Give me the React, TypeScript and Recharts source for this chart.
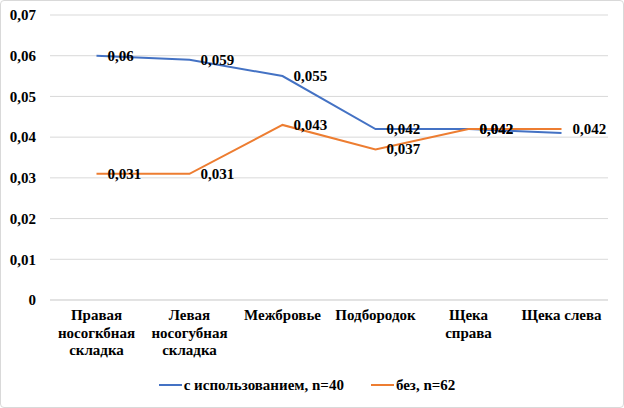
import { CartesianGrid, LabelList, Legend, Line, LineChart, XAxis, YAxis } from 'recharts';

const categories = [
  'Правая носогкбная складка',
  'Левая носогубная складка',
  'Межбровье',
  'Подбородок',
  'Щека справа',
  'Щека слева',
];

// how each category label wraps under the axis
const categoryLines = [
  ['Правая', 'носогкбная', 'складка'],
  ['Левая', 'носогубная', 'складка'],
  ['Межбровье'],
  ['Подбородок'],
  ['Щека', 'справа'],
  ['Щека слева'],
];

const withUse = [0.06, 0.059, 0.055, 0.042, 0.042, 0.041];
const without = [0.031, 0.031, 0.043, 0.037, 0.042, 0.042];
// the last blue label is hidden behind the orange one in the source
const withUseShowLabel = [true, true, true, true, true, false];

const yTicks = [0, 0.01, 0.02, 0.03, 0.04, 0.05, 0.06, 0.07];

const SERIES = [
  { key: 'withUse', name: 'с использованием, n=40', color: '#4472C4' },
  { key: 'without', name: 'без, n=62', color: '#ED7D31' },
];

const FONT = '"Times New Roman", "Liberation Serif", Tinos, serif';

const data = categories.map((c, i) => ({
  name: c,
  withUse: withUse[i],
  without: without[i],
  withUseLabel: withUseShowLabel[i] ? withUse[i] : null,
}));

const fmt = (v: number) => (v === 0 ? '0' : String(v).replace('.', ','));

function CategoryTick(props: any) {
  const { x, y, index } = props;
  const lines = categoryLines[index] || [];
  return (
    <text x={x} y={y + 12} textAnchor="middle" fontFamily={FONT} fontWeight={700} fontSize={15} fill="#000">
      {lines.map((l, i) => (
        <tspan key={i} x={x} dy={i === 0 ? 0 : 17.5}>
          {l}
        </tspan>
      ))}
    </text>
  );
}

function PointLabel(props: any) {
  const { x, y, value } = props;
  if (value === null || value === undefined) return null;
  return (
    <text
      x={x + 11}
      y={y + 5}
      fontFamily={FONT}
      fontWeight={700}
      fontSize={15}
      fill="#000"
    >
      {fmt(value)}
    </text>
  );
}

function LegendContent() {
  return (
    <div
      style={{
        height: 30,
        display: 'flex',
        justifyContent: 'center',
        alignItems: 'center',
        fontFamily: FONT,
        fontWeight: 700,
        fontSize: 15,
        color: '#000',
      }}
    >
      {SERIES.map((s, i) => (
        <div
          key={s.key}
          style={{ display: 'flex', alignItems: 'center', marginLeft: i === 0 ? 0 : 27 }}
        >
          <div style={{ width: 23, height: 2, background: s.color, marginRight: 2 }} />
          <span>{s.name}</span>
        </div>
      ))}
    </div>
  );
}

export default function App() {
  return (
    <div
      style={{ position: 'absolute', left: 0, top: 0, width: 624, height: 408, background: '#fff', fontFamily: FONT }}
    >
      <LineChart
        width={624}
        height={408}
        data={data}
        margin={{ top: 15, right: 16, left: 6, bottom: 8 }}
      >
        <CartesianGrid vertical={false} stroke="#d9d9d9" />
        <XAxis
          dataKey="name"
          scale="band"
          interval={0}
          height={70}
          axisLine={{ stroke: '#d9d9d9' }}
          tickLine={false}
          tick={<CategoryTick />}
        />
        <YAxis
          width={44}
          domain={[0, 0.07]}
          ticks={yTicks}
          axisLine={false}
          tickLine={false}
          tickMargin={8}
          tickFormatter={fmt}
          tick={{ fontFamily: FONT, fontWeight: 700, fontSize: 15, fill: '#000' }}
        />
        <Legend verticalAlign="bottom" height={30} content={<LegendContent />} />
        {SERIES.map((s) => (
          <Line
            key={s.key}
            type="linear"
            dataKey={s.key}
            name={s.name}
            stroke={s.color}
            strokeWidth={2}
            dot={false}
            activeDot={false}
            isAnimationActive={false}
          />
        ))}
        {/* label-only series so the numbers sit on top of both lines */}
        <Line
          dataKey="withUseLabel"
          stroke="none"
          dot={false}
          activeDot={false}
          legendType="none"
          isAnimationActive={false}
        >
          <LabelList dataKey="withUseLabel" content={<PointLabel />} />
        </Line>
        <Line
          dataKey="without"
          stroke="none"
          dot={false}
          activeDot={false}
          legendType="none"
          isAnimationActive={false}
        >
          <LabelList dataKey="without" content={<PointLabel />} />
        </Line>
      </LineChart>
      <div
        style={{
          position: 'absolute',
          left: 0,
          top: 0,
          width: 624,
          height: 408,
          boxSizing: 'border-box',
          border: '1px solid #d9d9d9',
          borderRadius: 4,
          pointerEvents: 'none',
        }}
      />
    </div>
  );
}
